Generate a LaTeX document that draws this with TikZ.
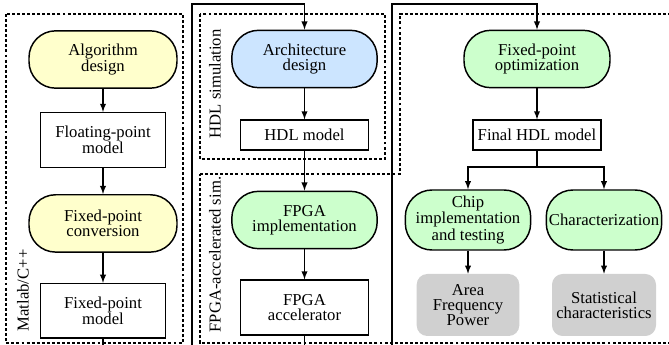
\documentclass[tikz,border=0pt]{standalone}
\usepackage{fontspec}
\setmainfont{Liberation Serif}
\usetikzlibrary{arrows}
\usetikzlibrary{positioning}
\tikzset{>=latex}
\definecolor{algyellow}{RGB}{255,255,204}
\definecolor{archblue}{RGB}{204,229,255}
\definecolor{implgreen}{RGB}{204,255,204}
\definecolor{resgray}{RGB}{208,208,208}

\begin{document}
\begin{tikzpicture}[x=0.75pt, y=-0.75pt, font=\fontsize{12.5}{11.2}\selectfont,
    stage/.style={draw, rectangle, rounded corners=20pt, line width=1.1pt, align=center, minimum width=111pt, minimum height=43pt, inner sep=2pt},
    model/.style={draw, rectangle, line width=1.1pt, align=center, minimum width=94pt, minimum height=41pt},
    result/.style={rectangle, rounded corners=8pt, fill=resgray, align=center, minimum width=77pt, minimum height=46.5pt, inner sep=2pt},
    region/.style={draw, line width=0.9pt, dash pattern=on 2.2pt off 1.6pt},
    flow/.style={->, line width=1.1pt}]
        \useasboundingbox (0,0) rectangle (669,345);
        \clip (0,0) rectangle (669,345);

        % dashed regions
        \draw [region] (6,14) rectangle (183,343);
        \draw [region] (200,14) rectangle (385,159);
        \draw [region] (200,174) -- (400,174) -- (400,14) -- (675,14) -- (675,343) -- (200,343) -- cycle;
        \node [rotate=90, anchor=west] (matlablabel) at (23,336) {Matlab/C++};
        \node [rotate=90, anchor=west] (hdllabel) at (215,143) {HDL simulation};
        \node [rotate=90, anchor=west] (fpgalabel) at (215,337) {FPGA-accelerated sim.};

        % left column
        \node [stage, fill=algyellow] (alg) at (103,59.5) {Algorithm\\design};
        \node [model, below=17.25pt of alg] (float) {Floating-point\\model};
        \node [stage, fill=algyellow, below=19.5pt of float] (conv) {Fixed-point\\conversion};
        \node [model, below=22.5pt of conv] (fixmodel) {Fixed-point\\model};

        % middle column
        \node [stage, fill=archblue, minimum width=109pt] (arch) at (304.5,59) {Architecture\\design};
        \node [model, minimum width=96pt, minimum height=22.5pt, below=23.25pt of arch] (hdl) {HDL model};
        \node [stage, fill=implgreen, minimum width=109pt] (fpgaimpl) at (304.5,220) {FPGA\\implementation};
        \node [model, minimum width=96pt, below=22.5pt of fpgaimpl] (fpgaacc) {FPGA\\accelerator};

        % right column
        \node [stage, fill=implgreen, minimum width=109.5pt] (opt) at (537,59) {Fixed-point\\optimization};
        \node [model, minimum width=96pt, minimum height=22.5pt, below=23.25pt of opt] (final) {Final HDL model};
        \node [stage, fill=implgreen, minimum width=94pt, minimum height=45pt] (chip) at (468,220) {Chip\\implementation\\and testing};
        \node [stage, fill=implgreen, minimum width=86pt, minimum height=45pt] (char) at (604,220) {Characterization};
        \node [result, below=17.25pt of chip] (area) {Area\\Frequency\\Power};
        \node [result, minimum width=78pt, below=17.25pt of char] (stat) {Statistical\\characteristics};

        \draw [flow] (alg)--(float);
        \draw [flow] (float)--(conv);
        \draw [flow] (conv)--(fixmodel);
        \draw [flow] (arch)--(hdl);
        \draw [flow] (hdl)--(fpgaimpl);
        \draw [flow] (fpgaimpl)--(fpgaacc);
        \draw [flow] (opt)--(final);
        \draw [flow] (chip)--(area);
        \draw [flow] (char)--(stat);

        % loops over the top
        \coordinate (lowa) at (192,352);
        \coordinate (loopa) at (192,4);
        \coordinate (lowb) at (392,352);
        \coordinate (loopb) at (392,4);
        \draw [flow] (fixmodel.south) |- (lowa) -- (loopa) -| (arch.north);
        \draw [flow] (fpgaacc.south) |- (lowb) -- (loopb) -| (opt.north);

        \coordinate (split) at (537,167);
        \draw [line width=1.1pt] (final.south)--(split);
        \draw [flow] (split) -| (chip.north);
        \draw [flow] (split) -| (char.north);
    \end{tikzpicture}
\end{document}
